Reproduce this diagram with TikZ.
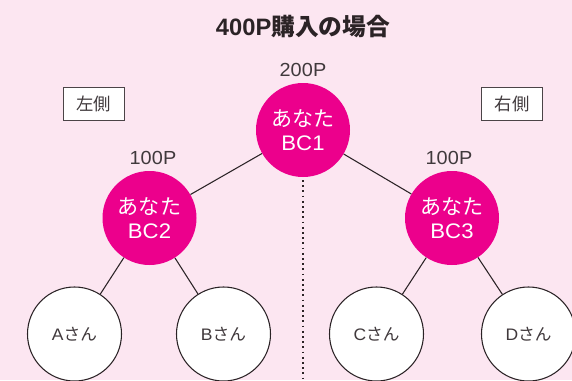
\documentclass[tikz,border=0pt]{standalone}
\usepackage{fontspec}
\setmainfont{Liberation Sans}
\newfontfamily\cjk{Noto Sans CJK JP}
\newfontfamily\wide[LetterSpace=1,FakeStretch=1.05]{Liberation Sans}
\definecolor{bg}{HTML}{FCE6F1}
\definecolor{mag}{HTML}{EC008C}
\definecolor{ink}{HTML}{2B2326}
\tikzset{
 px/.style={x=0.75pt,y=-0.75pt},
 you/.style={circle,fill=mag,text=white,minimum size=70.5pt,inner sep=0pt,align=center,font=\fontsize{15.8pt}{17.5pt}\selectfont},
 person/.style={circle,draw=ink,fill=white,line width=0.8pt,minimum size=70.5pt,inner sep=0pt,font=\fontsize{12.5pt}{14pt}\selectfont,text=ink!90},
 side/.style={draw=ink!85,fill=white,line width=0.6pt,minimum width=45.5pt,minimum height=24.3pt,inner sep=0pt,font=\cjk\fontsize{13pt}{15pt}\selectfont,text=ink!90},
 pts/.style={font=\wide\fontsize{14.2pt}{15pt}\selectfont,text=ink!90},
 link/.style={draw=ink,line width=0.8pt}
}
\begin{document}
\begin{tikzpicture}[px]
\fill[bg] (0,0) rectangle (572,380);
\useasboundingbox (0,0) rectangle (572,380);
\node[text=ink,font=\bfseries\fontsize{17.8pt}{19pt}\selectfont] (title) at (303,27) {400P{\cjk\bfseries 購入の場合}};
\coordinate (dtop) at (303,180);
\coordinate (dbot) at (303,380);
\draw[ink,line width=1.3pt,dash pattern=on 1.3pt off 2.6pt] (dtop) -- (dbot);
\node[you] (bc1) at (303,130) {{\cjk あなた}\\{\wide BC1}};
\node[you] (bc2) at (149.5,218) {{\cjk あなた}\\{\wide BC2}};
\node[you] (bc3) at (452,218) {{\cjk あなた}\\{\wide BC3}};
\node[person] (a) at (74.5,334) {{\wide A}{\cjk さん}};
\node[person] (b) at (223.5,334) {{\wide B}{\cjk さん}};
\node[person] (c) at (376.5,334) {{\wide C}{\cjk さん}};
\node[person] (d) at (528.5,334) {{\wide D}{\cjk さん}};
\draw[link] (bc1) -- (bc2);
\draw[link] (bc1) -- (bc3);
\draw[link] (bc2) -- (a);
\draw[link] (bc2) -- (b);
\draw[link] (bc3) -- (c);
\draw[link] (bc3) -- (d);
\node[side] (left) at (93.8,103.8) {左側\hspace{3pt}};
\node[side] (right) at (512,103.8) {右側\hspace{3pt}};
\node[pts] (p1) at (303,70) {200P};
\node[pts] (p2) at (153,158) {100P};
\node[pts] (p3) at (449,158) {100P};
\end{tikzpicture}
\end{document}
